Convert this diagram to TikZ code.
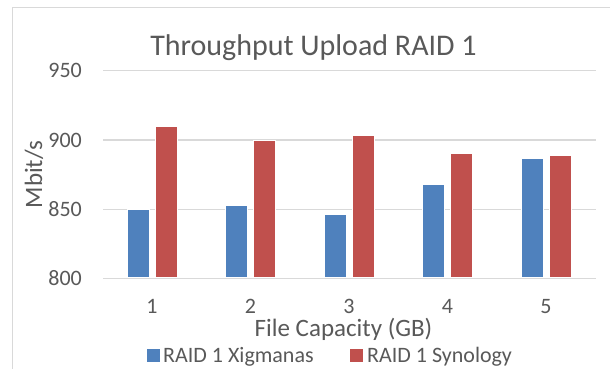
\documentclass[tikz,border=0pt]{standalone}
\usepackage{fontspec}
\setmainfont{Carlito}
\definecolor{txtgray}{HTML}{595959}
\definecolor{gridgray}{HTML}{D9D9D9}
\definecolor{framegray}{HTML}{D9D9D9}
\definecolor{barblue}{HTML}{4F81BD}
\definecolor{barred}{HTML}{C0504D}
\begin{document}
\begin{tikzpicture}[x=1pt,y=-1pt,
  gridline/.style={draw=gridgray, line width=1.3pt},
  ticklabel/.style={text=txtgray, font=\fontsize{22}{26}\selectfont, inner sep=0pt},
  axistitle/.style={text=txtgray, font=\fontsize{25}{30}\selectfont, inner sep=0pt},
  charttitle/.style={text=txtgray, font=\fontsize{30}{36}\selectfont, inner sep=0pt},
  bluebar/.style={fill=barblue, draw=white, line width=0.6pt},
  redbar/.style={fill=barred, draw=white, line width=0.6pt},
  legendtext/.style={text=txtgray, font=\fontsize{22}{26}\selectfont, inner sep=0pt, anchor=base west}
]
\useasboundingbox (0,0) rectangle (610,369);
\fill[white] (0,0) rectangle (610,369);
% chart frame
\draw[framegray, line width=1pt] (12,369) -- (12,8) -- (610,8);
% gridlines and value labels
\foreach \v/\y in {950/70.7, 900/140, 850/209.2, 800/278.3} {
  \draw[gridline] (103,\y) -- (595.7,\y);
  \node[ticklabel, anchor=east] (val\v) at (82,\y) {\v};
}
% bars and category labels
\foreach \i/\b/\r in {1/850/910, 2/853/900, 3/846/903, 4/868/890, 5/887/889} {
  \pgfmathsetmacro\c{152+98.5*(\i-1)}
  \pgfmathsetmacro\yb{278.3-(\b-800)*1.384}
  \pgfmathsetmacro\yr{278.3-(\r-800)*1.384}
  \path[bluebar] (\c-25,277.6) rectangle (\c-3,\yb);
  \path[redbar] (\c+3,277.6) rectangle (\c+25,\yr);
  \node[ticklabel] (cat\i) at (\c,306.5) {\i};
}
% titles
\node[charttitle, anchor=base] (title) at (313.5,56) {Throughput Upload RAID 1};
\node[axistitle, anchor=base, text height=16pt] (xtitle) at (343.5,336.5) {File Capacity (GB)};
\node[axistitle, anchor=base, rotate=90] (ytitle) at (42,174.5) {Mbit/s};
% legend
\fill[barblue] (147,348.5) rectangle (160,361.5);
\node[legendtext] (leg1) at (163,362) {RAID 1 Xigmanas};
\fill[barred] (350,348.5) rectangle (363,361.5);
\node[legendtext] (leg2) at (367,362) {RAID 1 Synology};
\end{tikzpicture}
\end{document}
